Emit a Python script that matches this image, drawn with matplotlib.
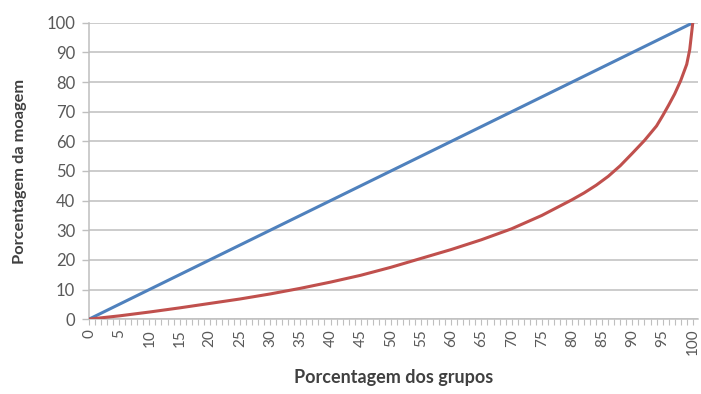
# -*- coding: utf-8 -*-

import numpy as np
import matplotlib
matplotlib.use('Agg')
import matplotlib.pyplot as plt

# percentagem acumulada dos grupos (eixo x)
grupos = [0, 5, 10, 15, 20, 25, 30, 35, 40, 45, 50, 55, 60, 65, 70, 75,
          80, 82, 84, 86, 88, 90, 92, 94, 95, 96, 97, 98, 99, 99.5, 100]
# curva de Lorenz da moagem
moagem = [0, 1.1, 2.4, 3.8, 5.3, 6.8, 8.5, 10.4, 12.5, 14.8, 17.5, 20.5,
          23.5, 26.8, 30.5, 35.0, 40.3, 42.6, 45.2, 48.2, 51.8, 56.0, 60.3,
          65.2, 68.6, 72.2, 76.0, 80.5, 86.0, 91.0, 100]
# linha de igualdade
igualdade_x = [0, 100]
igualdade_y = [0, 100]

x_ticks = list(range(0, 101, 5))
y_ticks = list(range(0, 101, 10))

AZUL = '#4F81BD'
VERMELHO = '#C0504D'
CINZA = '#BFBFBF'
TEXTO = '#595959'


def desenha():
    plt.rcParams['font.family'] = ['Lato', 'DejaVu Sans']
    fig = plt.figure(figsize=(7.01, 3.94), dpi=100)
    ax = fig.add_axes([0.127, 0.19, 0.869, 0.752])

    ax.plot(igualdade_x, igualdade_y, color=AZUL, lw=2.2, solid_capstyle='round', zorder=3)
    ax.plot(grupos, moagem, color=VERMELHO, lw=2.2, solid_capstyle='round', zorder=4)

    ax.set_xlim(0, 100.9)
    ax.set_ylim(0, 100)
    ax.set_yticks(y_ticks)
    ax.set_xticks(x_ticks)
    ax.set_xticks(np.arange(0, 101, 1), minor=True)
    ax.set_xticklabels([str(v) for v in x_ticks], rotation=90, va='top', ha='center')

    ax.grid(axis='y', color=CINZA, lw=1.1, zorder=0)
    ax.set_axisbelow(True)

    for s in ['top', 'right']:
        ax.spines[s].set_visible(False)
    for s in ['left', 'bottom']:
        ax.spines[s].set_color(CINZA)
        ax.spines[s].set_linewidth(1.1)

    ax.tick_params(axis='y', length=5, width=1, color=CINZA, labelsize=12,
                   labelcolor=TEXTO, pad=5)
    ax.tick_params(axis='x', which='both', length=4, width=0.8, color=CINZA,
                   labelsize=11, labelcolor=TEXTO, pad=3)

    ax.set_xlabel('Porcentagem dos grupos', fontsize=13, fontweight='bold',
                  color='#404040', labelpad=10)
    ax.set_ylabel('Porcentagem da moagem', fontsize=11.8, fontweight='bold',
                  color='#404040', labelpad=14)

    fig.savefig('out.png', dpi=100)


def main():
    desenha()


if __name__ == '__main__':
    main()
